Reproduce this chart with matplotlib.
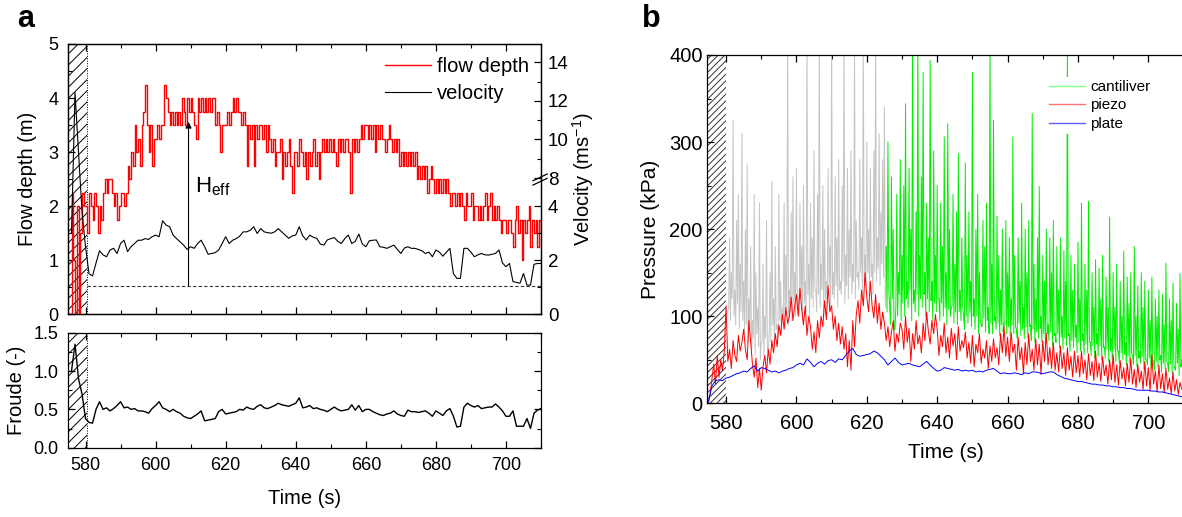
import numpy as np
import matplotlib
matplotlib.use('Agg')
import matplotlib.pyplot as plt
from matplotlib.ticker import MultipleLocator

plt.rcParams['font.family'] = ['Liberation Sans', 'DejaVu Sans']
plt.rcParams['mathtext.fontset'] = 'custom'
plt.rcParams['mathtext.rm'] = 'Liberation Sans'
plt.rcParams['mathtext.default'] = 'regular'
plt.rcParams['hatch.linewidth'] = 0.7
plt.rcParams['axes.linewidth'] = 0.9

# ---------------- data ----------------
# time bases (s)
t_half = np.arange(575.0, 710.01, 0.5)   # 0.5 s samples
t_sec = np.arange(575, 711)              # 1 s samples
t_cant = np.arange(580.5, 710.01, 0.5)   # cantilever record
t_green = 625.5                          # gray -> green switch

# panel a: flow depth (m), 0.5 s steps
depth = [
    0, 0, 2.25, 1.0, 0, 2.0, 0, 1.5, 2.25, 2.0,
    2.0, 1.5, 2.25, 2.0, 1.75, 2.25, 2.0, 1.5, 2.0, 1.75,
    2.25, 2.5, 2.25, 2.5, 2.5, 2.25, 2.0, 2.25, 1.75, 2.0,
    2.25, 2.25, 2.0, 2.25, 2.75, 2.5, 3.0, 2.75, 3.5, 3.0,
    3.25, 2.75, 3.5, 3.75, 4.25, 3.5, 3.0, 3.5, 2.75, 3.25,
    3.25, 3.5, 3.25, 3.5, 3.5, 4.25, 4.0, 3.75, 3.5, 3.75,
    3.5, 3.75, 3.5, 3.75, 3.5, 4.0, 3.75, 3.5, 4.0, 3.75,
    4.0, 3.75, 3.5, 3.25, 4.0, 3.75, 4.0, 3.75, 4.0, 3.75,
    4.0, 3.75, 4.0, 4.0, 3.5, 3.75, 3.5, 3.0, 3.5, 3.5,
    3.5, 3.75, 3.5, 3.75, 4.0, 3.75, 4.0, 3.75, 3.75, 3.5,
    3.75, 3.5, 2.75, 3.5, 3.25, 3.5, 2.75, 3.5, 3.25, 3.5,
    3.5, 3.25, 3.5, 3.0, 3.5, 3.25, 3.0, 3.25, 2.75, 3.0,
    3.0, 3.25, 2.5, 3.0, 2.75, 3.0, 3.25, 2.75, 2.25, 3.0,
    3.0, 2.75, 3.25, 3.0, 2.75, 3.0, 2.5, 3.0, 2.75, 3.0,
    3.25, 2.75, 3.0, 2.5, 3.0, 3.25, 3.0, 3.25, 3.0, 3.25,
    3.0, 3.25, 3.0, 2.75, 3.25, 3.0, 3.25, 3.0, 3.25, 3.25,
    3.0, 2.25, 3.25, 3.0, 3.25, 3.0, 3.25, 3.5, 3.25, 3.5,
    3.5, 3.25, 3.5, 3.25, 3.5, 3.0, 3.5, 3.25, 3.5, 3.25,
    3.25, 3.0, 3.25, 3.5, 3.25, 3.0, 3.25, 3.0, 3.25, 2.75,
    3.0, 2.75, 3.0, 2.75, 3.0, 2.75, 3.0, 2.75, 3.0, 2.5,
    2.75, 2.5, 2.75, 2.5, 2.75, 2.25, 2.5, 2.75, 2.5, 2.25,
    2.5, 2.25, 2.5, 2.25, 2.5, 2.25, 2.5, 2.25, 2.0, 2.25,
    2.25, 2.0, 2.25, 2.0, 2.25, 2.0, 1.75, 2.25, 2.0, 2.0,
    2.25, 1.75, 2.0, 2.0, 1.75, 2.0, 1.75, 2.0, 2.25, 1.75,
    2.0, 2.25, 1.75, 2.0, 1.75, 2.0, 1.75, 1.5, 1.75, 1.75,
    1.5, 1.75, 1.75, 1.5, 1.25, 1.75, 2.0, 1.5, 1.75, 1.0,
    1.75, 1.5, 1.75, 2.0, 1.25, 1.75, 1.5, 1.75, 1.25, 1.75, 1.5,
]

# panel a: velocity (m/s), 1 s
velocity = [
    np.nan, 3.0, 8.2, 6.0, 3.8, 2.5, 1.5, 1.42, 1.9, 2.35,
    2.2, 2.13, 2.38, 2.44, 2.25, 2.62, 2.74, 2.32, 2.5, 2.62,
    2.74, 2.74, 2.8, 2.77, 2.87, 2.93, 2.87, 3.46, 3.3, 3.24,
    2.93, 2.8, 2.68, 2.56, 2.4, 2.5, 2.44, 2.62, 2.74, 2.5,
    2.22, 2.25, 2.28, 2.38, 2.62, 2.87, 2.62, 2.74, 2.8, 2.89,
    3.05, 3.05, 3.11, 3.24, 2.99, 3.17, 3.05, 3.02, 3.0, 3.05,
    3.17, 3.05, 2.93, 2.81, 2.9, 2.93, 3.24, 2.9, 2.75, 2.93,
    2.85, 2.81, 2.6, 2.56, 2.75, 2.8, 2.84, 2.7, 2.62, 2.8,
    2.93, 2.62, 2.7, 2.97, 2.6, 2.5, 2.72, 2.74, 2.75, 2.5,
    2.48, 2.44, 2.5, 2.56, 2.4, 2.25, 2.45, 2.5, 2.44, 2.44,
    2.4, 2.35, 2.25, 2.3, 2.13, 2.38, 2.3, 2.15, 2.3, 2.44,
    1.5, 1.33, 1.33, 2.44, 2.44, 2.3, 2.13, 2.2, 2.25, 2.2,
    2.19, 2.22, 2.25, 2.38, 1.9, 1.76, 1.88, 1.21, 1.18, 1.15,
    1.51, 1.08, 1.08, 1.85, 1.88, 1.88,
]

# panel a: Froude number (-), 1 s
froude = [
    np.nan, 1.0, 1.35, 0.9, 0.7, 0.38, 0.33, 0.32, 0.5, 0.6,
    0.5, 0.52, 0.48, 0.51, 0.55, 0.6, 0.52, 0.53, 0.5, 0.51,
    0.48, 0.48, 0.47, 0.45, 0.51, 0.55, 0.6, 0.52, 0.5, 0.47,
    0.5, 0.47, 0.45, 0.41, 0.39, 0.38, 0.41, 0.44, 0.48, 0.35,
    0.36, 0.37, 0.38, 0.47, 0.5, 0.44, 0.45, 0.46, 0.47, 0.5,
    0.49, 0.53, 0.51, 0.5, 0.54, 0.56, 0.52, 0.51, 0.53, 0.55,
    0.58, 0.56, 0.55, 0.54, 0.56, 0.58, 0.65, 0.52, 0.53, 0.55,
    0.51, 0.52, 0.5, 0.49, 0.47, 0.5, 0.53, 0.5, 0.48, 0.49,
    0.5, 0.56, 0.49, 0.55, 0.47, 0.5, 0.5, 0.47, 0.45, 0.43,
    0.42, 0.44, 0.45, 0.48, 0.44, 0.42, 0.41, 0.49, 0.47, 0.47,
    0.46, 0.47, 0.48, 0.45, 0.41, 0.48, 0.45, 0.42, 0.48, 0.51,
    0.41, 0.27, 0.28, 0.53, 0.58, 0.55, 0.53, 0.55, 0.51, 0.52,
    0.53, 0.53, 0.57, 0.53, 0.48, 0.41, 0.41, 0.48, 0.28, 0.28,
    0.28, 0.38, 0.25, 0.45, 0.49, 0.51,
]

h_threshold = 0.53     # dashed reference level (m)
h_eff_time = 609.4     # position of H_eff arrow (s)
h_eff_top = 3.56       # top of H_eff arrow (m)

# panel b: cantilever pressure (kPa), 0.5 s from 580.5 s (upper strokes)
cantilever = [
    105, 190, 150, 325, 130, 210, 240, 160, 310, 140,
    200, 275, 120, 180, 95, 240, 150, 110, 230, 70,
    160, 100, 210, 60, 150, 255, 120, 180, 90, 240,
    140, 110, 230, 170, 420, 130, 220, 260, 150, 270,
    120, 230, 180, 250, 140, 420, 160, 230, 190, 290,
    130, 240, 420, 160, 250, 200, 140, 270, 180, 420,
    150, 260, 190, 280, 140, 250, 420, 170, 270, 200,
    290, 160, 420, 210, 150, 280, 190, 420, 170, 300,
    200, 270, 160, 290, 420, 190, 310, 220, 280, 340,
    180, 300, 110, 260, 200, 85, 240, 150, 280, 170,
    250, 344, 140, 270, 200, 420, 130, 220, 420, 170,
    260, 380, 150, 230, 190, 394, 140, 290, 170, 250,
    120, 230, 180, 306, 150, 321, 200, 110, 240, 160,
    220, 287, 130, 190, 100, 276, 170, 220, 140, 380,
    120, 200, 240, 150, 90, 210, 180, 230, 110, 420,
    160, 325, 100, 215, 170, 130, 200, 90, 210, 150,
    190, 120, 306, 170, 85, 190, 140, 230, 110, 200,
    150, 210, 90, 333, 160, 120, 190, 249, 100, 170,
    140, 200, 90, 190, 150, 210, 80, 180, 130, 190,
    100, 175, 140, 420, 80, 170, 130, 160, 90, 185,
    120, 230, 80, 160, 130, 232, 70, 150, 110, 165,
    80, 155, 120, 170, 65, 145, 110, 214, 75, 150,
    110, 160, 60, 140, 100, 175, 70, 145, 115, 150,
    55, 180, 100, 135, 60, 150, 110, 140, 50, 130,
    95, 145, 48, 120, 100, 130, 55, 125, 90, 161,
    45, 120, 95, 138, 40, 115, 85, 149, 50, 120,
]
# cantilever troughs (kPa), 0.5 s from 580.75 s (lower strokes between the above)
cant_trough = [
    110, 95, 120, 100, 90, 115, 85, 105, 95, 80,
    90, 70, 85, 60, 75, 55, 80, 65, 50, 70,
    55, 75, 60, 80, 70, 90, 65, 85, 75, 95,
    80, 100, 85, 110, 90, 105, 95, 115, 100, 110,
    100, 120, 95, 115, 105, 125, 100, 120, 110, 130,
    105, 125, 110, 130, 100, 120, 115, 135, 110, 125,
    120, 135, 110, 130, 125, 140, 115, 135, 120, 145,
    125, 140, 120, 145, 130, 150, 125, 140, 135, 150,
    130, 145, 125, 150, 140, 155, 135, 160, 145, 110,
    105, 130, 90, 120, 84, 110, 100, 125, 95, 115,
    100, 120, 110, 130, 95, 115, 105, 125, 100, 120,
    110, 125, 100, 120, 105, 118, 95, 115, 105, 120,
    95, 115, 100, 110, 90, 108, 100, 112, 92, 105,
    90, 105, 95, 110, 85, 100, 92, 105, 88, 100,
    85, 100, 80, 95, 88, 98, 82, 95, 80, 92,
    80, 95, 85, 92, 78, 90, 82, 95, 80, 88,
    78, 90, 80, 88, 75, 92, 78, 85, 74, 88,
    75, 88, 72, 85, 70, 82, 75, 86, 70, 80,
    68, 80, 72, 82, 66, 78, 70, 80, 64, 76,
    62, 75, 66, 78, 60, 72, 64, 75, 58, 70,
    60, 72, 56, 68, 58, 70, 55, 66, 52, 68,
    54, 66, 50, 64, 52, 62, 48, 60, 50, 62,
    48, 60, 46, 58, 50, 56, 44, 55, 46, 58,
    45, 55, 42, 52, 46, 54, 40, 50, 44, 52,
    40, 50, 38, 48, 42, 50, 36, 46, 40, 48,
    36, 45, 34, 44, 38, 46, 32, 42, 36, 44,
]

# panel b: piezo pressure (kPa), 0.5 s
piezo = [
    0, 12, 28, 45, 22, 55, 30, 50, 38, 60,
    112, 48, 62, 40, 72, 55, 48, 78, 60, 70,
    85, 62, 50, 95, 70, 45, 30, 52, 18, 40,
    15, 42, 55, 35, 62, 45, 72, 58, 80, 65,
    90, 78, 102, 85, 110, 92, 100, 122, 95, 112,
    125, 100, 132, 108, 90, 112, 78, 100, 88, 62,
    82, 58, 95, 75, 100, 88, 118, 96, 135, 105,
    112, 85, 100, 72, 92, 68, 88, 62, 80, 42,
    72, 38, 95, 65, 102, 118, 92, 130, 112, 150,
    122, 105, 140, 112, 98, 125, 92, 115, 85, 105,
    92, 72, 88, 65, 82, 95, 60, 80, 70, 92,
    85, 62, 100, 70, 86, 48, 80, 62, 95, 68,
    78, 58, 92, 72, 105, 82, 68, 95, 80, 102,
    85, 55, 78, 65, 92, 58, 76, 52, 86, 66,
    80, 50, 88, 60, 72, 64, 82, 52, 70, 46,
    78, 42, 68, 58, 80, 46, 62, 52, 72, 40,
    66, 48, 74, 52, 64, 44, 80, 58, 88, 54,
    76, 48, 82, 58, 68, 38, 76, 50, 64, 34,
    70, 44, 80, 48, 62, 38, 74, 44, 68, 33,
    72, 48, 80, 44, 64, 40, 70, 38, 58, 36,
    66, 40, 58, 32, 64, 38, 54, 30, 60, 35,
    55, 30, 60, 34, 50, 27, 57, 32, 48, 26,
    60, 30, 46, 25, 54, 32, 44, 22, 50, 27,
    56, 24, 44, 21, 49, 28, 41, 20, 46, 24,
    52, 22, 39, 18, 45, 24, 37, 16, 48, 20,
    41, 14, 56, 22, 37, 13, 44, 17, 34, 12,
    40, 16, 29, 11, 36, 14, 27, 10, 24, 16, 20,
]

# panel b: plate pressure (kPa), 1 s
plate = [
    2, 20, 26, 27, 26, 29, 30, 32, 34, 35,
    37, 36, 40, 43, 37, 41, 40, 38, 36, 37,
    35, 37, 38, 40, 41, 44, 46, 44, 51, 47,
    42, 46, 48, 45, 49, 50, 47, 51, 50, 55,
    60, 63, 56, 54, 55, 56, 57, 60, 58, 54,
    50, 44, 48, 52, 47, 44, 45, 46, 44, 43,
    42, 45, 48, 44, 40, 37, 38, 41, 40, 39,
    38, 39, 37, 38, 37, 38, 36, 37, 36, 38,
    39, 40, 37, 34, 35, 34, 34, 35, 34, 33,
    35, 34, 36, 36, 35, 34, 35, 36, 36, 33,
    31, 29, 28, 27, 26, 25, 25, 24, 23, 22,
    22, 21, 21, 20, 20, 19, 19, 18, 18, 17,
    17, 16, 15, 15, 15, 15, 14, 14, 13, 13,
    12, 11, 10, 9, 8, 7,
]

# ---------------- figure ----------------
W, H = 1182, 517
fig = plt.figure(figsize=(W / 100, H / 100), dpi=100)


def px_axes(l, t, r, b):
    return fig.add_axes([l / W, 1 - b / H, (r - l) / W, (b - t) / H])


def style(ax, size, pad):
    ax.tick_params(which='both', direction='in', labelsize=size, pad=pad)
    ax.tick_params(which='major', length=5, width=0.9)
    ax.tick_params(which='minor', length=3, width=0.8)


# --- panel a, top: flow depth + velocity ---
ax_h = px_axes(68, 44, 541, 314.3)
ax_h.axvspan(575, 580.3, facecolor='none', edgecolor='k', hatch='///', lw=0, zorder=1)
ax_h.axvline(580.3, color='k', ls=(0, (1, 1.5)), lw=0.7, zorder=1)
ax_h.hlines(h_threshold, 580.3, 710, colors='#333333', linestyles=(0, (3, 2)), lw=0.8, zorder=2)
l_depth, = ax_h.plot(t_half, depth, color='red', lw=1.0, drawstyle='steps-post', zorder=3)
ax_h.annotate('', xy=(h_eff_time, h_eff_top), xytext=(h_eff_time, h_threshold),
              arrowprops=dict(arrowstyle='-|>', color='k', lw=0.8, mutation_scale=9,
                              shrinkA=0, shrinkB=0), zorder=4)
ax_h.text(h_eff_time + 1.8, 2.36, r'H$_{eff}$', fontsize=16, va='center', ha='left')
ax_h.set_xlim(575, 710)
ax_h.set_ylim(0, 5)
ax_h.set_xticks(np.arange(580, 701, 20))
ax_h.xaxis.set_minor_locator(MultipleLocator(10))
ax_h.set_yticks(np.arange(0, 6, 1))
ax_h.yaxis.set_minor_locator(MultipleLocator(0.5))
style(ax_h, 13, 7)
ax_h.tick_params(which='both', top=True, right=False, labelbottom=False)
ax_h.set_ylabel('Flow depth (m)', fontsize=14.5)
ax_h.yaxis.set_label_coords(-0.066, 0.5)

ax_v = ax_h.twinx()
l_vel, = ax_v.plot(t_sec, velocity, color='k', lw=0.8)
ax_v.set_ylim(0, 10)
ax_v.set_yticks([0, 2, 4, 5.04, 6.48, 7.90, 9.32])
ax_v.set_yticklabels(['0', '2', '4', '8', '10', '12', '14'])
ax_v.set_yticks([1, 3, 5.76, 7.19, 8.61], minor=True)
style(ax_v, 13.5, 5)
ax_v.tick_params(which='both', left=False, right=True)
ax_v.set_ylabel(r'Velocity (ms$^{-1}$)', fontsize=14.5, rotation=90)
ax_v.yaxis.set_label_coords(1.062, 0.5)
for dy in (0.0, 0.016):
    ax_v.plot([0.983, 1.013], [0.478 + dy, 0.503 + dy], transform=ax_v.transAxes,
              color='k', lw=0.9, clip_on=False)
ax_v.legend([l_depth, l_vel], ['flow depth', 'velocity'], loc='upper left',
            bbox_to_anchor=(0.670, 0.951), frameon=False, fontsize=14.5,
            handlelength=2.3, handletextpad=0.3, labelspacing=0.4,
            borderpad=0, borderaxespad=0)

# --- panel a, bottom: Froude ---
ax_fr = px_axes(68, 332.7, 541, 447.7)
ax_fr.axvspan(575, 580.3, facecolor='none', edgecolor='k', hatch='///', lw=0, zorder=1)
ax_fr.axvline(580.3, color='k', ls=(0, (1, 1.5)), lw=0.7, zorder=1)
ax_fr.plot(t_sec, froude, color='k', lw=1.0, zorder=3)
ax_fr.set_xlim(575, 710)
ax_fr.set_ylim(0, 1.5)
ax_fr.set_xticks(np.arange(580, 701, 20))
ax_fr.xaxis.set_minor_locator(MultipleLocator(10))
ax_fr.set_yticks([0, 0.5, 1.0, 1.5])
ax_fr.set_yticklabels(['0.0', '0.5', '1.0', '1.5'])
ax_fr.yaxis.set_minor_locator(MultipleLocator(0.25))
style(ax_fr, 13, 7)
ax_fr.tick_params(which='both', top=True, right=True)
ax_fr.set_ylabel('Froude (-)', fontsize=14.5)
ax_fr.yaxis.set_label_coords(-0.088, 0.5)
ax_fr.set_xlabel('Time (s)', fontsize=14.5)
ax_fr.xaxis.set_label_coords(0.5, -0.36)

# --- panel b: pressures ---
# interleave upper strokes and troughs into one 0.25 s record
t_fine = np.column_stack([t_cant, t_cant + 0.25]).ravel()
cant_fine = np.column_stack([cantilever, cant_trough]).ravel().astype(float)
gray = t_fine <= t_green
green = t_fine >= t_green

ax_b = px_axes(706.7, 55, 1185.3, 403.3)
ax_b.axvspan(574.5, 580, facecolor='white', edgecolor='#333333', hatch='/////', lw=0, zorder=0.5)
ax_b.plot(t_fine[gray], cant_fine[gray], color='#c4c4c4', lw=0.7, zorder=2)
ax_b.plot(t_fine[green], cant_fine[green], color='#00ee00', lw=0.7, zorder=2, label='cantiliver')
ax_b.plot(t_half, piezo, color='#ff0000', lw=0.7, zorder=3, label='piezo')
ax_b.plot(t_sec, plate, color='#0000ff', lw=0.7, zorder=4, label='plate')
ax_b.set_xlim(574.5, 710.5)
ax_b.set_ylim(0, 400)
ax_b.set_xticks(np.arange(580, 701, 20))
ax_b.xaxis.set_minor_locator(MultipleLocator(10))
ax_b.set_yticks(np.arange(0, 401, 100))
ax_b.yaxis.set_minor_locator(MultipleLocator(50))
style(ax_b, 14.5, 3)
ax_b.tick_params(axis='x', pad=8)
ax_b.tick_params(which='both', top=True, right=False)
ax_b.spines['right'].set_visible(False)
ax_b.set_ylabel('Pressure (kPa)', fontsize=15)
ax_b.yaxis.set_label_coords(-0.098, 0.5)
ax_b.set_xlabel('Time (s)', fontsize=15)
ax_b.xaxis.set_label_coords(0.5, -0.114)
leg = ax_b.legend(loc='upper left', bbox_to_anchor=(0.7096, 0.9368), fontsize=11,
                  frameon=True, facecolor='white', edgecolor='none', framealpha=1,
                  fancybox=False, handlelength=2.35, handletextpad=0.33,
                  labelspacing=0.29, borderpad=0.2, borderaxespad=0)
for ln, c in zip(leg.get_lines(), ['#80ff80', '#ff7070', '#6060ff']):
    ln.set_color(c)
    ln.set_linewidth(1.0)

fig.text(17 / W, 1 - 27 / H, 'a', fontsize=22, fontweight='bold', va='baseline')
fig.text(642 / W, 1 - 27 / H, 'b', fontsize=22, fontweight='bold', va='baseline')

fig.savefig('out.png', dpi=100)
